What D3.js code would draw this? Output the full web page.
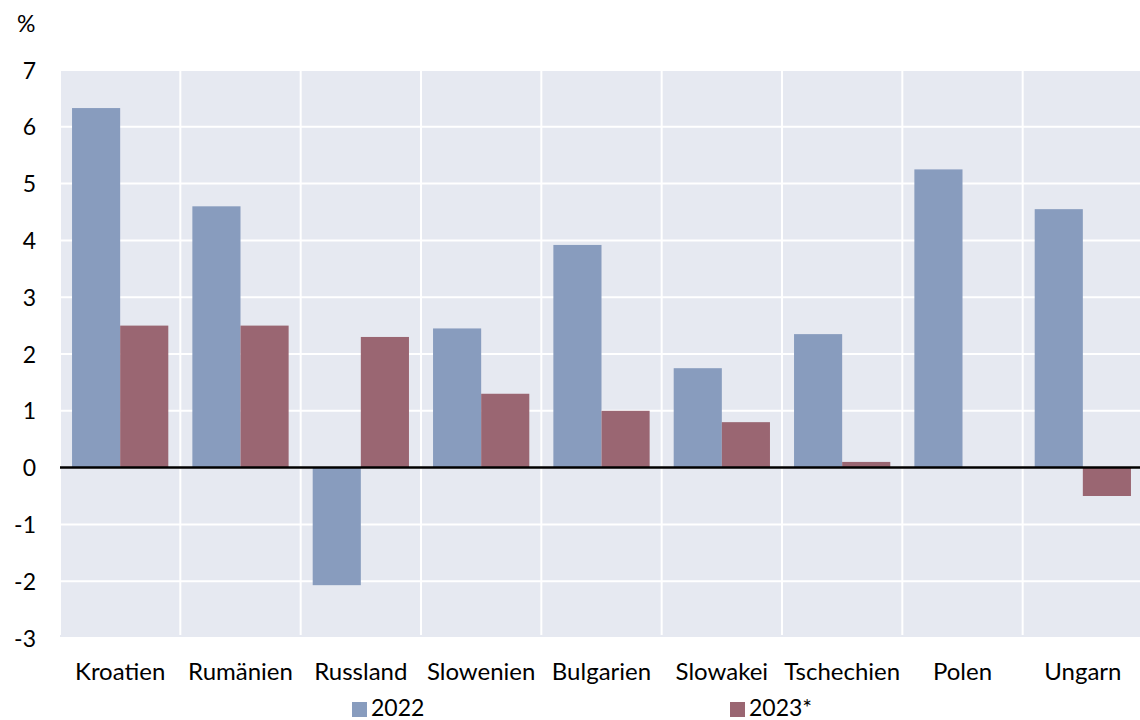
<!DOCTYPE html>
<html>
<head>
<meta charset="utf-8">
<script src="https://cdn.jsdelivr.net/npm/d3@7"></script>
<style>
  body { margin: 0; background: #fff; }
  svg text { font-family: Lato, "Open Sans", sans-serif; fill: #000; }
</style>
</head>
<body>
<div id="chart"></div>
<script>
// Daten
let laender = ["Kroatien", "Rumänien", "Russland", "Slowenien", "Bulgarien",
               "Slowakei", "Tschechien", "Polen", "Ungarn"];
let werte2022 = [6.33, 4.6, -2.07, 2.45, 3.92, 1.75, 2.35, 5.25, 4.55];
let werte2023 = [2.5, 2.5, 2.3, 1.3, 1.0, 0.8, 0.1, 0, -0.5];
let serien = ["2022", "2023*"];
let farben = ["#889cbe", "#9a6672"];
let yTicks = [-3, -2, -1, 0, 1, 2, 3, 4, 5, 6, 7];

let larg = 1140;
let alt = 720;
let links = 60, rechts = 1143, oben = 70, unten = 638;

let svg = d3.select("#chart")
            .append("svg")
            .attr("width", larg)
            .attr("height", alt);

let x = d3.scaleBand()
          .domain(laender)
          .range([links, rechts]);

let xInnen = d3.scaleBand()
               .domain(serien)
               .range([0, x.bandwidth()])
               .paddingOuter(0.25);

let y = d3.scaleLinear()
          .domain([-3, 7])
          .range([unten, oben]);

// Hintergrund
svg.append("rect")
   .attr("x", links)
   .attr("y", oben)
   .attr("width", rechts - links)
   .attr("height", unten - oben)
   .attr("fill", "#e6e9f1");

// horizontale Gitterlinien
svg.append("g")
   .selectAll("line")
   .data(yTicks)
   .enter()
     .append("line")
     .attr("x1", links)
     .attr("x2", rechts)
     .attr("y1", d => y(d))
     .attr("y2", d => y(d))
     .attr("stroke", "#fff")
     .attr("stroke-width", 2);

// vertikale Gitterlinien
svg.append("g")
   .selectAll("line")
   .data(laender)
   .enter()
     .append("line")
     .attr("x1", d => x(d))
     .attr("x2", d => x(d))
     .attr("y1", oben)
     .attr("y2", unten - 3)
     .attr("stroke", "#fff")
     .attr("stroke-width", 2);

// Balken
let daten = laender.map((l, i) => ({land: l, werte: [werte2022[i], werte2023[i]]}));

svg.append("g")
   .selectAll("g")
   .data(daten)
   .enter()
     .append("g")
     .attr("transform", d => "translate(" + x(d.land) + ",0)")
     .selectAll("rect")
     .data(d => d.werte.map((v, j) => ({serie: serien[j], wert: v, farbe: farben[j]})))
     .enter()
       .append("rect")
       .attr("x", d => xInnen(d.serie))
       .attr("width", xInnen.bandwidth())
       .attr("y", d => y(Math.max(0, d.wert)))
       .attr("height", d => Math.abs(y(d.wert) - y(0)))
       .attr("fill", d => d.farbe);

// Nulllinie
svg.append("line")
   .attr("x1", links)
   .attr("x2", rechts)
   .attr("y1", y(0))
   .attr("y2", y(0))
   .attr("stroke", "#000")
   .attr("stroke-width", 2.5);

// y-Achse
let yAchse = svg.append("g")
   .attr("transform", "translate(36,0)")
   .call(d3.axisLeft(y).tickValues(yTicks).tickSize(0).tickPadding(0).tickFormat(d => String(d)));
yAchse.select(".domain").remove();
yAchse.selectAll("text")
      .style("font-size", "23px")
      .attr("dy", "0.35em");

// x-Achse
let xAchse = svg.append("g")
   .attr("transform", "translate(0," + unten + ")")
   .call(d3.axisBottom(x).tickSize(0).tickPadding(0));
xAchse.select(".domain").remove();
xAchse.selectAll("text")
      .style("font-size", "24px")
      .attr("dy", null)
      .attr("y", 42);

// Einheit
svg.append("text")
   .attr("x", 17)
   .attr("y", 32)
   .style("font-size", "23px")
   .text("%");

// Legende
let legX = [352, 730];
let legende = svg.append("g")
   .selectAll("g")
   .data(serien)
   .enter()
     .append("g")
     .attr("transform", (d, i) => "translate(" + legX[i] + ",702)");
legende.append("rect")
       .attr("width", 15)
       .attr("height", 15)
       .attr("fill", (d, i) => farben[i]);
legende.append("text")
       .attr("x", 19)
       .attr("y", 14)
       .style("font-size", "23px")
       .text(d => d);
</script>
</body>
</html>
